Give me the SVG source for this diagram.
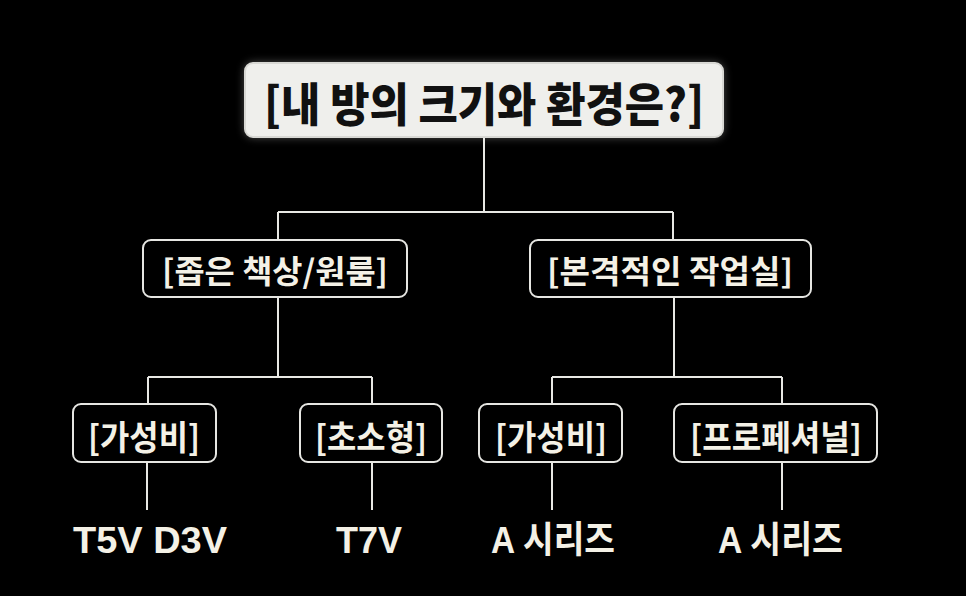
<svg xmlns="http://www.w3.org/2000/svg" width="966" height="596" viewBox="0 0 966 596">
<defs>
<style>
.bg{fill:#000}
.box{fill:#000;stroke:#e6e6e2;stroke-width:2}
.root{fill:#efefec;stroke:#d8d8d4;stroke-width:2}
.t{font-family:"Noto Sans CJK KR","Noto Sans",sans-serif;font-weight:700;fill:#f4f1e6;text-anchor:middle;dominant-baseline:central}
.rt{font-family:"Noto Sans CJK KR","Noto Sans",sans-serif;font-weight:900;fill:#111;text-anchor:middle;dominant-baseline:central}
.leaf{font-family:"Liberation Sans","Noto Sans CJK KR",sans-serif;font-weight:700;fill:#f4f1e6;font-size:37px}
.c{stroke:#e8e8e4;stroke-width:2;fill:none}
</style>
<filter id="glow" x="-20%" y="-40%" width="140%" height="180%">
<feGaussianBlur stdDeviation="5"/>
</filter>
</defs>
<rect class="bg" width="966" height="596"/>
<g id="connectors">
<path class="c" d="M484 137V212M278 212H673M278 212V240M673 212V240"/>
<path class="c" d="M278 297V377M148 377H372M148 377V404M372 377V404"/>
<path class="c" d="M674 297V377M552 377H782M552 377V404M782 377V404"/>
<path class="c" d="M147 462V510M372 462V510M552 462V510M782 462V510"/>
</g>
<g id="root">
<rect x="245" y="63" width="478" height="74" rx="8" fill="#fff" opacity="0.35" filter="url(#glow)"/>
<rect class="root" x="245" y="63" width="478" height="74" rx="8"/>
<text class="rt" x="484" y="101" font-size="46" textLength="440" lengthAdjust="spacingAndGlyphs">[내 방의 크기와 환경은?]</text>
</g>
<g id="small">
<rect class="box" x="143" y="240" width="264" height="57" rx="8"/>
<text class="t" x="275" y="269" font-size="32" textLength="226" lengthAdjust="spacingAndGlyphs">[좁은 책상/원룸]</text>
</g>
<g id="studio">
<rect class="box" x="530" y="240" width="281" height="57" rx="8"/>
<text class="t" x="670" y="269" font-size="32" textLength="246" lengthAdjust="spacingAndGlyphs">[본격적인 작업실]</text>
</g>
<g id="value1">
<rect class="box" x="73" y="404" width="143" height="58" rx="8"/>
<text class="t" x="144" y="435" font-size="34" textLength="112" lengthAdjust="spacingAndGlyphs">[가성비]</text>
</g>
<g id="mini">
<rect class="box" x="300" y="404" width="142" height="58" rx="8"/>
<text class="t" x="371" y="435" font-size="34" textLength="112" lengthAdjust="spacingAndGlyphs">[초소형]</text>
</g>
<g id="value2">
<rect class="box" x="479" y="404" width="143" height="58" rx="8"/>
<text class="t" x="551" y="435" font-size="34" textLength="112" lengthAdjust="spacingAndGlyphs">[가성비]</text>
</g>
<g id="pro">
<rect class="box" x="674" y="404" width="203" height="58" rx="8"/>
<text class="t" x="776" y="435" font-size="34" textLength="172" lengthAdjust="spacingAndGlyphs">[프로페셔널]</text>
</g>
<g id="leaf1"><text class="leaf" x="73" y="553" textLength="154" lengthAdjust="spacingAndGlyphs">T5V  D3V</text></g>
<g id="leaf2"><text class="leaf" x="336" y="553" textLength="66" lengthAdjust="spacingAndGlyphs">T7V</text></g>
<g id="leaf3"><text class="leaf" x="491" y="553" textLength="124" lengthAdjust="spacingAndGlyphs">A 시리즈</text></g>
<g id="leaf4"><text class="leaf" x="718" y="553" textLength="125" lengthAdjust="spacingAndGlyphs">A 시리즈</text></g>
</svg>
